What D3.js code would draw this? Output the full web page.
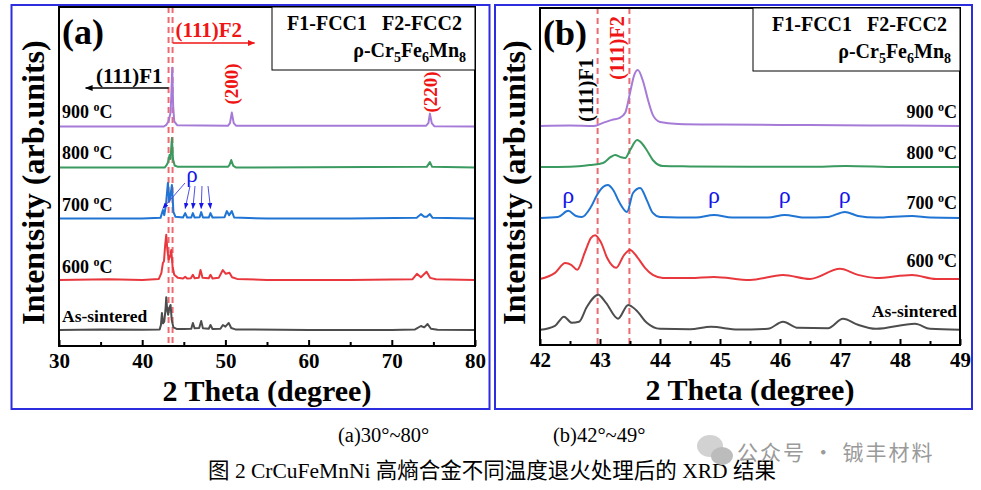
<!DOCTYPE html>
<html>
<head>
<meta charset="utf-8">
<script src="https://cdn.jsdelivr.net/npm/d3@7"></script>
<style>
  body { margin: 0; background: #fff; }
  text { font-family: "Liberation Serif", "Times New Roman", "Noto Sans CJK SC", serif; }
</style>
</head>
<body>
<div id="wrapper"></div>
<script>
// ---- data (2theta in degrees, intensity in arb. units above each curve's baseline) ----
const seriesNames = ["As-sintered", "600", "700", "800", "900"];
const seriesColors = ["#4d4d4d", "#e8383d", "#1f74d4", "#3a9a5f", "#a67bd8"];

// panel (a) 30-80 deg
const offsetsA = [4.7, 19.5, 37.6, 52.65, 64.75];
const asSinteredA = [[30,0],[35,0.2],[40,0.1],[42.1,0.2],[42.25,1.5],[42.37,5],[42.5,2],[42.65,2.5],[42.8,6],[42.89,9.7],[43.0,6],[43.12,4.5],[43.25,6.5],[43.41,7.4],[43.55,3],[43.75,0.8],[44.2,0.3],[45.0,0.3],[45.9,0.4],[46.09,2.1],[46.3,0.5],[46.85,0.6],[47.09,2.7],[47.3,0.5],[48.0,0.4],[48.21,1.5],[48.45,0.3],[49.4,0.4],[49.7,1.5],[50.0,1.0],[50.4,2.1],[50.7,0.6],[51.2,0.2],[60,0],[70,0],[72.8,0.2],[73.5,1.2],[73.9,0.8],[74.3,1.8],[74.7,0.4],[75.5,0.1],[80,0]];
const t600A = [[30,0],[36,0.2],[40,0],[42.0,0.3],[42.3,2],[42.49,5],[42.62,5.5],[42.75,10],[42.89,13.3],[43.02,9],[43.18,6],[43.35,7],[43.49,8.8],[43.65,4],[43.85,1.5],[44.3,0.6],[44.9,0.4],[45.17,0.9],[45.4,0.4],[45.85,0.5],[46.09,1.5],[46.3,0.5],[46.8,0.6],[47.01,2.9],[47.25,0.6],[48.0,0.5],[48.21,1.5],[48.45,0.4],[49.2,0.6],[49.69,2.9],[50.05,1.8],[50.49,2.1],[50.8,0.8],[51.4,0.3],[55,0],[65,0],[72.5,0.2],[73.02,1.8],[73.5,0.8],[74.18,2.4],[74.6,0.6],[75.3,0.2],[80,0]];
const t700A = [[30,0],[40,0],[42.2,0.2],[42.49,2.5],[42.65,1],[42.85,4],[43.09,10.5],[43.25,5],[43.35,6],[43.57,9.9],[43.75,2],[44.0,0.5],[44.9,0.3],[45.17,1.6],[45.4,0.3],[45.9,0.3],[46.09,1.6],[46.3,0.3],[46.9,0.4],[47.09,1.9],[47.3,0.3],[48.0,0.3],[48.21,1.6],[48.45,0.3],[49.9,0.4],[50.17,2.2],[50.45,1],[50.77,2.2],[51.05,0.3],[55,0],[65,0],[73.0,0.2],[73.5,1.3],[73.9,0.5],[74.2,0.5],[74.58,1.3],[74.9,0.2],[80,0]];
const t800A = [[30,0],[42.7,0],[42.95,0.8],[43.1,1.5],[43.29,3.7],[43.4,2.5],[43.57,8.7],[43.7,2.5],[43.9,0.6],[44.3,0.2],[50.3,0.2],[50.5,0.8],[50.7,2.2],[50.95,0.5],[51.3,0],[74.2,0.2],[74.58,1.6],[74.85,0.2],[80,0]];
const t900A = [[30,0],[42.6,0],[42.9,0.5],[43.15,1.5],[43.4,4],[43.5,9],[43.61,17.3],[43.72,6],[43.85,1.5],[44.2,0.4],[50.3,0.2],[50.55,1],[50.77,4.1],[51.0,1],[51.3,0.2],[74.1,0.2],[74.4,1],[74.58,3.8],[74.8,1],[75.1,0.1],[80,0]];
const dashesA = [43.17, 43.65];
const rhoTargetsA = [42.49, 45.17, 46.09, 47.09, 48.21];

// panel (b) 42-49 deg
const offsetsB = [4.5, 19.6, 37.7, 52.8, 65];
const asSinteredB = [[42,0],[42.25,1.2],[42.4,3.9],[42.53,2.1],[42.65,2.4],[42.78,6.8],[42.97,10.4],[43.1,8],[43.3,3.3],[43.47,7.4],[43.6,5.9],[43.78,2.1],[44.0,0.3],[44.5,0.2],[44.85,0.9],[45.3,0.1],[45.8,0.3],[46.05,2.4],[46.3,0.6],[46.8,0.5],[47.05,3.3],[47.3,1.5],[47.6,0.3],[48.25,1.8],[48.5,0.3],[49,0]];
const t600B = [[42,0],[42.25,1.8],[42.42,4.7],[42.52,4.2],[42.62,2.7],[42.75,8],[42.85,12.2],[42.92,13],[43.02,10.7],[43.12,6.2],[43.27,3.3],[43.4,7.1],[43.5,8.6],[43.62,6.5],[43.75,3.3],[43.88,1.2],[44.05,0.3],[44.5,0.3],[44.9,0.6],[45.5,-0.3],[46.05,1.2],[46.5,0],[47.0,3.0],[47.3,1.2],[47.6,0.3],[48.2,1.2],[48.6,0],[49,0]];
const t700B = [[42,0],[42.3,0.3],[42.47,2.1],[42.6,0.6],[42.7,0.3],[42.85,3.3],[42.95,6.8],[43.05,9.2],[43.13,9.8],[43.22,8.3],[43.32,4.7],[43.45,1.8],[43.55,7.4],[43.67,8.9],[43.78,5.3],[43.88,1.5],[44.0,0.3],[44.6,0.1],[44.9,0.9],[45.2,0.1],[45.8,0.1],[46.08,0.9],[46.4,0.1],[46.8,0.3],[47.08,1.8],[47.3,0.6],[47.6,0.1],[48.2,0.6],[48.5,0.1],[49,0]];
const t800B = [[42,0],[42.5,0.1],[42.83,0.6],[43.05,1.2],[43.18,3],[43.25,3.6],[43.35,2.9],[43.42,2.7],[43.5,5],[43.62,8],[43.7,7],[43.78,5],[43.88,2.1],[44.05,0.3],[44.5,0.2],[45.5,0.1],[46.5,0.1],[47.1,0.3],[48,0],[49,0]];
const t900B = [[42,0],[42.5,0.1],[42.9,0],[43.05,0.9],[43.2,1.8],[43.33,2.4],[43.42,3.9],[43.5,9.8],[43.57,15.1],[43.63,16.6],[43.72,13.1],[43.8,7.7],[43.88,3.3],[44.0,1.2],[44.3,0.6],[45,0.4],[46,0.3],[47,0.2],[48,0.1],[49,0]];
const dashesB = [42.96, 43.49];
const rhoPeaksB = [42.47, 44.9, 46.08, 47.08];

const majorTicksA = [30, 40, 50, 60, 70, 80];
const minorTicksA = [35, 45, 55, 65, 75];
const majorTicksB = [42, 43, 44, 45, 46, 47, 48, 49];
const minorTicksB = [42.5, 43.5, 44.5, 45.5, 46.5, 47.5, 48.5];

const svg = d3.select("#wrapper")
  .append("svg")
  .attr("width", 981)
  .attr("height", 490);

const defs = svg.append("defs");
[["arrBlack", "#000"], ["arrRed", "#f01515"], ["arrBlue", "#1515e8"]].forEach(([id, c]) => {
  defs.append("marker")
    .attr("id", id)
    .attr("viewBox", "0 0 10 10")
    .attr("refX", 9).attr("refY", 5)
    .attr("markerWidth", 6).attr("markerHeight", 6)
    .attr("orient", "auto")
    .append("path")
    .attr("d", "M0,1 L10,5 L0,9 z")
    .attr("fill", c);
});

function drawPanel(p) {
  // blue outer frame
  svg.append("rect")
    .attr("x", p.frame[0]).attr("y", p.frame[1])
    .attr("width", p.frame[2]).attr("height", p.frame[3])
    .attr("fill", "none").attr("stroke", "#2d2de0").attr("stroke-width", 2);

  const xScale = d3.scaleLinear().domain(p.domain).range([p.left, p.right]);
  const yScale = d3.scaleLinear().domain([0, 100]).range([p.bottom, p.top]);
  const g = svg.append("g");

  // dashed reference lines
  g.selectAll(".dash").data(p.dashes).join("line")
    .attr("x1", d => xScale(d)).attr("x2", d => xScale(d))
    .attr("y1", p.top).attr("y2", p.bottom)
    .attr("stroke", "#ec6b72").attr("stroke-width", 2)
    .attr("stroke-dasharray", "6,4");

  const lineGenerator = d3.line()
    .x(d => xScale(d[0]))
    .curve(p.curve);

  p.series.forEach((s, i) => {
    g.append("path")
      .attr("d", lineGenerator.y(d => yScale(d[1] + p.offsets[i]))(s))
      .attr("fill", "none")
      .attr("stroke", seriesColors[i])
      .attr("stroke-width", 2)
      .attr("stroke-linejoin", "round");
  });

  // axes
  const xAxis = g.append("g")
    .attr("transform", `translate(0,${p.bottom})`)
    .call(d3.axisBottom(xScale).tickValues(p.major).tickSize(-6).tickPadding(7).tickFormat(d3.format("d")));
  xAxis.select(".domain").remove();
  xAxis.selectAll("line").attr("stroke", "#000").attr("stroke-width", 2);
  xAxis.selectAll("text")
    .attr("fill", "#000")
    .style("font-family", "'Liberation Serif', serif")
    .style("font-size", "21px").style("font-weight", "bold");

  const xMinor = g.append("g")
    .attr("transform", `translate(0,${p.bottom})`)
    .call(d3.axisBottom(xScale).tickValues(p.minor).tickSize(-4).tickFormat(""));
  xMinor.select(".domain").remove();
  xMinor.selectAll("line").attr("stroke", "#000").attr("stroke-width", 2);

  g.append("rect")
    .attr("x", p.left).attr("y", p.top)
    .attr("width", p.right - p.left).attr("height", p.bottom - p.top)
    .attr("fill", "none").attr("stroke", "#000").attr("stroke-width", 2);

  // axis titles
  g.append("text")
    .attr("x", (p.left + p.right) / 2).attr("y", p.bottom + 55)
    .attr("text-anchor", "middle")
    .style("font-size", "30px").style("font-weight", "bold")
    .text("2 Theta (degree)");
  g.append("text")
    .attr("transform", `translate(${p.left - 15},${(p.top + p.bottom) / 2 + 6}) rotate(-90)`)
    .attr("text-anchor", "middle")
    .style("font-size", "32px").style("font-weight", "bold")
    .text("Intentsity (arb.units)");

  // panel tag
  g.append("text")
    .attr("x", p.left + 3).attr("y", p.top + 37)
    .style("font-size", "36px").style("font-weight", "bold")
    .text(p.tag);

  // legend box
  g.append("rect")
    .attr("x", p.legendX).attr("y", p.top)
    .attr("width", p.right - p.legendX).attr("height", 63)
    .attr("fill", "#fff").attr("stroke", "#000").attr("stroke-width", 1);
  g.append("text")
    .attr("x", p.right - 13).attr("y", p.top + 23)
    .attr("text-anchor", "end")
    .style("white-space", "pre")
    .style("font-size", "20px").style("font-weight", "bold")
    .text("F1-FCC1   F2-FCC2");
  const rho = g.append("text")
    .attr("x", p.right - 9).attr("y", p.top + 50)
    .attr("text-anchor", "end")
    .style("font-size", "20px").style("font-weight", "bold");
  rho.append("tspan").text("ρ-Cr");
  rho.append("tspan").attr("dy", 5).style("font-size", "14px").text("5");
  rho.append("tspan").attr("dy", -5).text("Fe");
  rho.append("tspan").attr("dy", 5).style("font-size", "14px").text("6");
  rho.append("tspan").attr("dy", -5).text("Mn");
  rho.append("tspan").attr("dy", 5).style("font-size", "14px").text("8");

  // temperature labels
  seriesNames.forEach((name, i) => {
    const t = g.append("text")
      .attr("x", p.labelAnchor === "start" ? p.left + 3 : p.right - 3)
      .attr("y", p.labelY[i])
      .attr("text-anchor", p.labelAnchor)
      .style("font-size", "18px").style("font-weight", "bold");
    if (name === "As-sintered") {
      t.style("font-size", "17.5px").text(name);
    } else {
      t.append("tspan").text(name + " ");
      t.append("tspan").attr("dy", -7).style("font-size", "12px").text("o");
      t.append("tspan").attr("dy", 7).text("C");
    }
  });

  return { g, xScale, yScale };
}

// ---------------- panel (a) ----------------
const a = drawPanel({
  frame: [11.5, 5, 478, 404],
  left: 59, right: 475, top: 7, bottom: 346,
  domain: [30, 80], major: majorTicksA, minor: minorTicksA,
  dashes: dashesA, curve: d3.curveLinear,
  series: [asSinteredA, t600A, t700A, t800A, t900A], offsets: offsetsA,
  tag: "(a)", legendX: 272,
  labelAnchor: "start", labelY: [322, 273, 211, 159, 118]
});

// (111)F1 / (111)F2 arrows
a.g.append("line")
  .attr("x1", a.xScale(dashesA[0])).attr("x2", a.xScale(33.2))
  .attr("y1", 88).attr("y2", 88)
  .attr("stroke", "#000").attr("stroke-width", 1.3)
  .attr("marker-end", "url(#arrBlack)");
a.g.append("text")
  .attr("x", a.xScale(dashesA[0]) - 6).attr("y", 83)
  .attr("text-anchor", "end")
  .style("font-size", "21px").style("font-weight", "bold")
  .text("(111)F1");
a.g.append("line")
  .attr("x1", a.xScale(dashesA[1])).attr("x2", a.xScale(53.5))
  .attr("y1", 43).attr("y2", 43)
  .attr("stroke", "#f01515").attr("stroke-width", 1.3)
  .attr("marker-end", "url(#arrRed)");
a.g.append("text")
  .attr("x", a.xScale(dashesA[1]) + 3).attr("y", 37)
  .attr("fill", "#f01515")
  .style("font-size", "21px").style("font-weight", "bold")
  .text("(111)F2");

[[50.77, 84, "(200)"], [74.58, 92, "(220)"]].forEach(([th, yc, label]) => {
  a.g.append("text")
    .attr("transform", `translate(${a.xScale(th)},${yc}) rotate(-90)`)
    .attr("text-anchor", "middle").attr("dy", "0.35em")
    .attr("fill", "#f01515")
    .style("font-size", "19px").style("font-weight", "bold")
    .text(label);
});

// rho arrows in (a)
a.g.append("text")
  .attr("x", 192).attr("y", 182)
  .attr("text-anchor", "middle")
  .attr("fill", "#1515e8")
  .style("font-size", "23px")
  .text("ρ");
const rhoStartsA = [[185, 183], [190, 186], [195, 186], [202, 186], [208, 186]];
rhoTargetsA.forEach((th, i) => {
  a.g.append("line")
    .attr("x1", rhoStartsA[i][0]).attr("y1", rhoStartsA[i][1])
    .attr("x2", a.xScale(th)).attr("y2", a.yScale(offsetsA[2] + 3))
    .attr("stroke", "#5050e6").attr("stroke-width", 1)
    .attr("marker-end", "url(#arrBlue)");
});

// ---------------- panel (b) ----------------
const b = drawPanel({
  frame: [495, 5, 477, 404],
  left: 540, right: 960, top: 8, bottom: 345,
  domain: [42, 49], major: majorTicksB, minor: minorTicksB,
  dashes: dashesB, curve: d3.curveMonotoneX,
  series: [asSinteredB, t600B, t700B, t800B, t900B], offsets: offsetsB,
  tag: "(b)", legendX: 753,
  labelAnchor: "end", labelY: [317, 267, 209, 159, 118]
});

[[dashesB[0], 90, "(111)F1", "#000"], [dashesB[1], 48, "(111)F2", "#f01515"]].forEach(([th, yc, label, c]) => {
  b.g.append("text")
    .attr("transform", `translate(${b.xScale(th) - 5},${yc}) rotate(-90)`)
    .attr("text-anchor", "middle")
    .attr("fill", c)
    .style("font-size", "20px").style("font-weight", "bold")
    .text(label);
});

b.g.selectAll(".rho").data(rhoPeaksB).join("text")
  .attr("x", d => b.xScale(d)).attr("y", 203)
  .attr("text-anchor", "middle")
  .attr("fill", "#1515e8")
  .style("font-size", "24px")
  .text("ρ");

// ---------------- captions ----------------
svg.append("text").attr("x", 338).attr("y", 442)
  .style("font-size", "20.5px").text("(a)30°~80°");
svg.append("text").attr("x", 553).attr("y", 442)
  .style("font-size", "20.5px").text("(b)42°~49°");
svg.append("text").attr("x", 492).attr("y", 478)
  .attr("text-anchor", "middle")
  .style("font-size", "21.5px")
  .text("图 2 CrCuFeMnNi 高熵合金不同温度退火处理后的 XRD 结果");

// watermark
svg.append("ellipse").attr("cx", 710).attr("cy", 446).attr("rx", 13).attr("ry", 11).attr("fill", "#d2d2d2");
svg.append("ellipse").attr("cx", 722).attr("cy", 456).attr("rx", 11).attr("ry", 9).attr("fill", "#bcbcbc");
svg.append("text").attr("x", 737).attr("y", 460)
  .attr("fill", "#9a9a9a")
  .style("font-family", "'Noto Sans CJK SC', sans-serif")
  .style("font-size", "21px")
  .style("letter-spacing", "2px")
  .text("公众号 · 铖丰材料");
</script>
</body>
</html>
